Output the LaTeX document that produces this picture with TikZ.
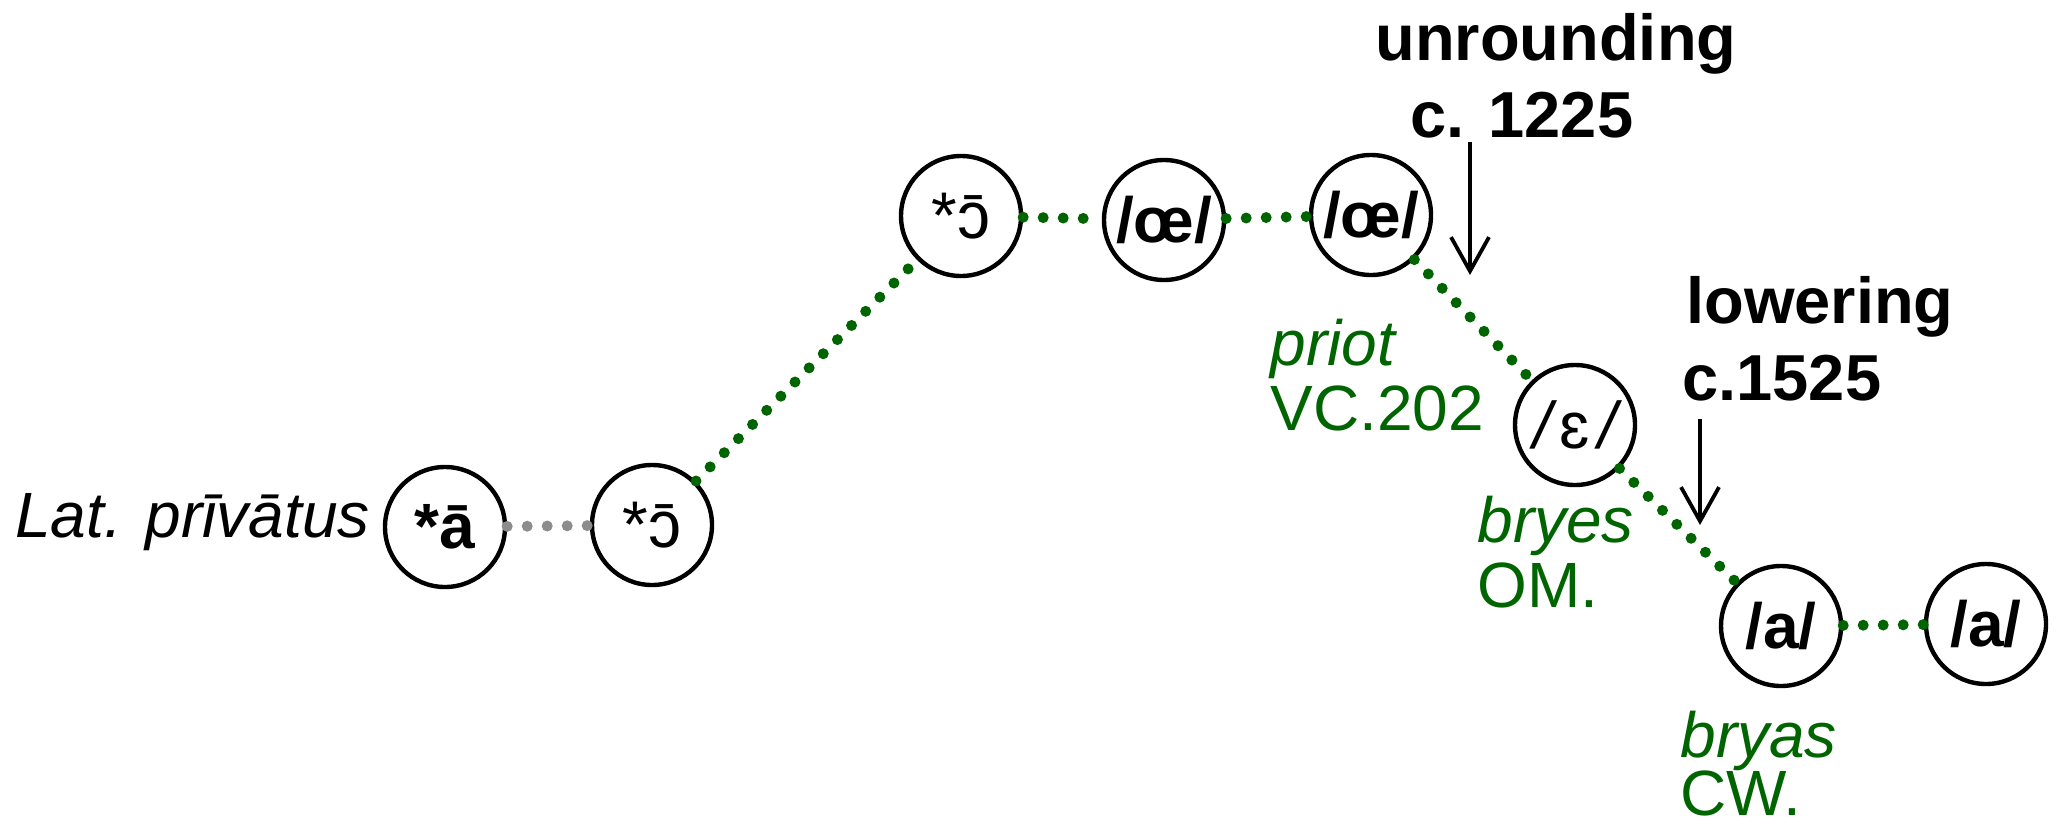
\documentclass[tikz,border=0pt]{standalone}
\usepackage{fontspec}
\setmainfont{Liberation Sans}
\usetikzlibrary{arrows.meta}
\definecolor{dgreen}{RGB}{0,100,0}
\definecolor{dgray}{RGB}{140,140,140}
\begin{document}
\begin{tikzpicture}[x=0.5pt,y=-0.5pt,
  ph/.style={circle, draw=black, line width=2.2pt, minimum size=60pt, inner sep=0pt, font=\fontsize{32}{34}\selectfont\bfseries},
  phr/.style={ph, font=\fontsize{33}{34}\selectfont},
  gdots/.style={draw=dgreen, line width=5.5pt, line cap=round, dash pattern=on 0pt off 10pt},
  ydots/.style={gdots, draw=dgray},
  lbl/.style={anchor=base west, inner sep=0pt, font=\fontsize{32}{36}\selectfont},
  glbl/.style={lbl, text=dgreen},
  gilbl/.style={lbl, text=dgreen, font=\fontsize{32}{36}\selectfont\itshape},
  hdr/.style={lbl, font=\fontsize{32.5}{36}\selectfont\bfseries},
  darr/.style={draw=black, line width=1.9pt, -{Straight Barb[length=17pt,width=19pt,line width=1.9pt]}}
]
\useasboundingbox (0,0) rectangle (2060,825);

% phoneme nodes
\node[ph]  (A) at (445,527) {*ā};
\node[phr] (B) at (652,525) {*ɔ̄};
\node[phr] (C) at (961,216) {*ɔ̄};
\node[ph]  (D) at (1164,220) {/œ/};
\node[ph]  (E) at (1371,215) {/œ/};
\node[phr] (F) at (1575,425) {\itshape/\hspace{0.12em}\upshape ɛ\itshape\hspace{0.12em}/};
\node[ph]  (G) at (1781,626) {/a/};
\node[ph]  (H) at (1986,624) {/a/};

% dotted connectors
\draw[ydots] (A) -- (B);
\draw[gdots] (B) -- (C);
\draw[gdots] (C) -- (D);
\draw[gdots] (D) -- (E);
\draw[gdots] (E) -- (F);
\draw[gdots] (F) -- (G);
\draw[gdots] (G) -- (H);

% labels
\node[lbl, font=\fontsize{32}{36}\selectfont\itshape] (lat) at (15,537) {Lat. prīvātus};
\node[gilbl] (priot) at (1270,365) {priot};
\node[glbl]  (vc)    at (1270,430) {VC.202};
\node[gilbl] (bryes) at (1477,542) {bryes};
\node[glbl]  (om)    at (1477,607) {OM.};
\node[gilbl] (bryas) at (1680,757) {bryas};
\node[glbl]  (cw)    at (1680,815) {CW.};

% headings
\node[hdr] (unr)  at (1375,60)  {unrounding};
\node[hdr] (d1)   at (1410,137) {c. 1225};
\node[hdr] (low)  at (1686,323) {lowering};
\node[hdr] (d2)   at (1682,400) {c.1525};

% arrows
\coordinate (u1) at (1470,142);
\coordinate (u2) at (1470,275);
\coordinate (l1) at (1700,419);
\coordinate (l2) at (1700,525);
\draw[darr] (u1) -- (u2);
\draw[darr] (l1) -- (l2);
\end{tikzpicture}
\end{document}
